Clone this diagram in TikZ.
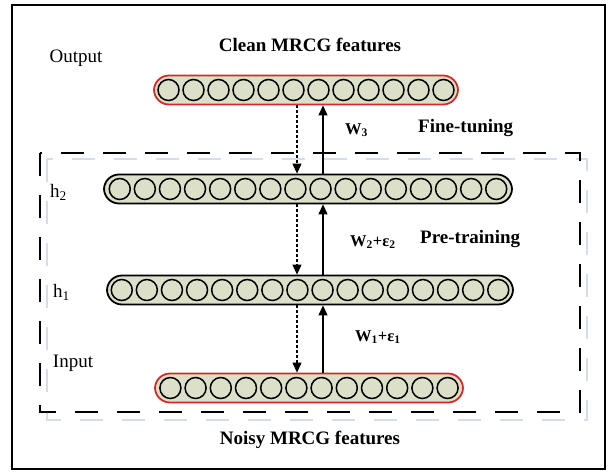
\documentclass[tikz,border=0pt]{standalone}
\usepackage{fontspec}
\setmainfont{Liberation Serif}
\usetikzlibrary{arrows.meta}
\definecolor{barfill}{HTML}{DDE0C9}
\definecolor{barred}{HTML}{D42A2A}
\definecolor{ghost}{HTML}{D3DDEC}
\begin{document}
\begin{tikzpicture}[x=1pt,y=-1pt,
  bar/.style={draw=black, line width=1.8pt, fill=barfill, rounded corners=15pt,
    minimum height=29pt, inner sep=0pt},
  redbar/.style={bar, draw=barred},
  cell/.style={circle, draw=black, line width=1.5pt, fill=barfill,
    minimum size=21pt, inner sep=0pt},
  solidarrow/.style={line width=1.1pt, -{Triangle[length=10pt,width=9pt]}},
  dasharrow/.style={line width=1.1pt, dash pattern=on 3pt off 2pt,
    -{Triangle[length=10pt,width=9pt]}},
  boxline/.style={line width=2.8pt, dash pattern=on 23pt off 19pt},
  ghostline/.style={line width=2.2pt, draw=ghost, dash pattern=on 23pt off 19pt},
  title/.style={font=\fontsize{19}{22}\selectfont\bfseries},
  lbl/.style={font=\fontsize{19}{22}\selectfont},
  wlbl/.style={font=\fontsize{16.5}{19}\selectfont\bfseries, anchor=west}
]
\useasboundingbox (0,0) rectangle (609,473);
% outer frame
\draw[line width=2.2pt] (12,5) rectangle (605,469);
% pre-training dashed boxes
\draw[ghostline] (47,159) rectangle (587,420);
\draw[boxline] (40,153) rectangle (580,412);
% bars
\node[redbar, minimum width=304pt] (out) at (306,90) {};
\node[bar, minimum width=408pt] (h2) at (308,189) {};
\node[bar, minimum width=406pt] (h1) at (310,290) {};
\node[redbar, minimum width=308pt] (in) at (309,388) {};
\foreach \i in {0,...,11} \node[cell] at ({306+(\i-5.5)*25},90) {};
\foreach \i in {0,...,15} \node[cell] at ({308+(\i-7.5)*25.1},189) {};
\foreach \i in {0,...,15} \node[cell] at ({310+(\i-7.5)*25.1},290) {};
\foreach \i in {0,...,11} \node[cell] at ({309+(\i-5.5)*25.2},388) {};
% arrow columns
\coordinate (dx) at (297,0);
\coordinate (sx) at (323,0);
\draw[dasharrow] (out.south -| dx) -- (h2.north -| dx);
\draw[solidarrow] (h2.north -| sx) -- (out.south -| sx);
\draw[dasharrow] (h2.south -| dx) -- (h1.north -| dx);
\draw[solidarrow] (h1.north -| sx) -- (h2.south -| sx);
\draw[dasharrow] (h1.south -| dx) -- (in.north -| dx);
\draw[solidarrow] (in.north -| sx) -- (h1.south -| sx);
% texts
\node[title] (clean) at (310,45) {Clean MRCG features};
\node[title] (noisy) at (310,440) {Noisy MRCG features};
\node[lbl] (output) at (76,58) {Output};
\node[lbl] (input) at (73,363) {Input};
\node[lbl, anchor=west, inner sep=0pt] (lh2) at (50,192) {h\textsubscript{2}};
\node[lbl, anchor=west, inner sep=0pt] (lh1) at (53,292) {h\textsubscript{1}};
\node[wlbl, inner sep=0pt] (w3) at (345,130) {W\textsubscript{3}};
\node[title, anchor=west, inner sep=0pt] (fine) at (418,128) {Fine-tuning};
\node[wlbl, inner sep=0pt] (w2) at (350,242) {W\textsubscript{2}+ε\textsubscript{2}};
\node[title, anchor=west, inner sep=0pt] (pre) at (420,239) {Pre-training};
\node[wlbl, inner sep=0pt] (w1) at (355,337) {W\textsubscript{1}+ε\textsubscript{1}};
\end{tikzpicture}
\end{document}
